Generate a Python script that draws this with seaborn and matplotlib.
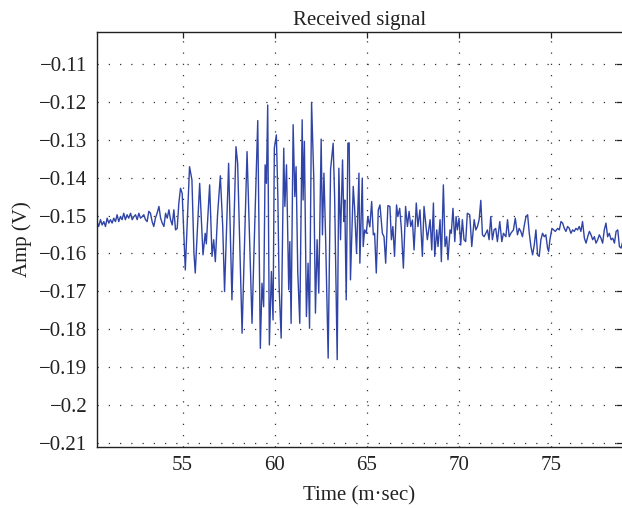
import matplotlib
matplotlib.use("Agg")
import matplotlib.pyplot as plt
import matplotlib.ticker as mticker
import seaborn as sns
import pandas as pd

# ---- data ----
time_ms = [
    50.36, 50.45, 50.55, 50.64, 50.73, 50.82, 50.91, 51.00, 51.09, 51.18,
    51.27, 51.36, 51.45, 51.54, 51.63, 51.72, 51.81, 51.90, 51.99, 52.08,
    52.18, 52.27, 52.36, 52.45, 52.54, 52.63, 52.72, 52.81, 52.90, 52.99,
    53.08, 53.17, 53.26, 53.35, 53.44, 53.53, 53.62, 53.72, 53.81, 53.90,
    53.99, 54.08, 54.17, 54.26, 54.35, 54.44, 54.53, 54.62, 54.71, 54.80,
    54.89, 54.98, 55.07,
    55.15, 55.38, 55.51, 55.62, 55.69, 55.93, 56.11, 56.23, 56.29, 56.47,
    56.60, 56.69, 56.78, 56.90, 57.05, 57.18, 57.28, 57.50, 57.68, 57.90,
    57.99, 58.23, 58.50, 58.77, 58.86, 59.08, 59.22,
    59.31, 59.40, 59.48, 59.55, 59.62, 59.71, 59.82, 59.91, 59.98, 60.09,
    60.17, 60.24, 60.35, 60.49, 60.55, 60.64, 60.76, 60.82, 60.89, 61.00,
    61.09, 61.16, 61.25, 61.36, 61.49, 61.54, 61.61, 61.72, 61.81, 61.89,
    62.00, 62.12, 62.21, 62.30, 62.39, 62.52, 62.59, 62.67, 62.76, 62.90,
    63.03, 63.17, 63.25, 63.39, 63.48, 63.57, 63.68, 63.75, 63.80, 63.88,
    63.97, 64.04, 64.11, 64.26, 64.33, 64.44, 64.57, 64.62, 64.75, 64.80,
    64.88, 64.97, 65.05, 65.16, 65.26, 65.35, 65.42, 65.51, 65.62, 65.71,
    65.84, 65.93, 66.02, 66.14, 66.25, 66.33, 66.41, 66.50, 66.61, 66.68,
    66.78, 66.87, 66.98, 67.10, 67.20, 67.29, 67.38, 67.47, 67.56, 67.68,
    67.77, 67.88, 68.01, 68.10,
    68.28, 68.43, 68.52, 68.61, 68.68, 68.79, 68.86, 68.97, 69.04, 69.15,
    69.24, 69.33, 69.40, 69.51, 69.58, 69.67, 69.77, 69.84, 69.91, 70.00,
    70.09, 70.18, 70.27, 70.36, 70.45, 70.58, 70.69, 70.82, 70.91, 71.00,
    71.09, 71.18, 71.27, 71.36, 71.45, 71.54, 71.63, 71.72, 71.81, 71.90,
    71.99, 72.08, 72.21, 72.32, 72.41, 72.54, 72.63, 72.72, 72.81, 72.95,
    73.05, 73.17, 73.26,
    73.35, 73.44, 73.53, 73.63, 73.72, 73.81, 73.90, 73.99, 74.08, 74.17,
    74.26, 74.35, 74.44, 74.53, 74.62, 74.71, 74.80, 74.86, 74.93, 75.04,
    75.13, 75.22, 75.35, 75.44, 75.53, 75.62, 75.71, 75.80, 75.89, 75.98,
    76.07, 76.16, 76.25, 76.34, 76.43, 76.52, 76.61, 76.70, 76.80, 76.89,
    76.98, 77.07, 77.16, 77.25, 77.34, 77.43, 77.52, 77.61, 77.70, 77.79,
    77.88, 77.97, 78.06, 78.15, 78.25, 78.34, 78.43, 78.52, 78.61, 78.70,
    78.79, 78.88,
]
amp_v = [
    -0.1516, -0.1529, -0.1511, -0.1525, -0.1516, -0.1529, -0.1507, -0.1520, -0.1511, -0.1520,
    -0.1507, -0.1516, -0.1498, -0.1516, -0.1503, -0.1511, -0.1494, -0.1511, -0.1498, -0.1507,
    -0.1494, -0.1511, -0.1503, -0.1498, -0.1511, -0.1494, -0.1507, -0.1503, -0.1498, -0.1511,
    -0.1516, -0.1489, -0.1494, -0.1516, -0.1529, -0.1507, -0.1494, -0.1476, -0.1507, -0.1520,
    -0.1529, -0.1494, -0.1507, -0.1485, -0.1511, -0.1525, -0.1485, -0.1538, -0.1534, -0.1467,
    -0.1428, -0.1441, -0.1547,
    -0.1644, -0.1371, -0.1406, -0.1600, -0.1652, -0.1415, -0.1604, -0.1547, -0.1575, -0.1419,
    -0.1608, -0.1564, -0.1622, -0.1498, -0.1395, -0.1529, -0.1701, -0.1362, -0.1723, -0.1318,
    -0.1362, -0.1811, -0.1331, -0.1785, -0.1622, -0.1249, -0.1851,
    -0.1679, -0.1741, -0.1366, -0.1415, -0.1208, -0.1842, -0.1648, -0.1776, -0.1322, -0.1287,
    -0.1450, -0.1688, -0.1824, -0.1322, -0.1476, -0.1366, -0.1696, -0.1569, -0.1785, -0.1260,
    -0.1450, -0.1371, -0.1648, -0.1785, -0.1247, -0.1459, -0.1304, -0.1767, -0.1626, -0.1798,
    -0.1201, -0.1401, -0.1758, -0.1564, -0.1705, -0.1298, -0.1551, -0.1388, -0.1555, -0.1877,
    -0.1379, -0.1309, -0.1450, -0.1881, -0.1375, -0.1564, -0.1353, -0.1516, -0.1459, -0.1723,
    -0.1309, -0.1308, -0.1670, -0.1423, -0.1476, -0.1600, -0.1388, -0.1626, -0.1401, -0.1582,
    -0.1538, -0.1547, -0.1503, -0.1530, -0.1463, -0.1551, -0.1547, -0.1652, -0.1485, -0.1472,
    -0.1547, -0.1556, -0.1626, -0.1474, -0.1476, -0.1564, -0.1529, -0.1608, -0.1472, -0.1503,
    -0.1481, -0.1534, -0.1639, -0.1476, -0.1529, -0.1489, -0.1529, -0.1512, -0.1591, -0.1467,
    -0.1529, -0.1485, -0.1608, -0.1476,
    -0.1564, -0.1511, -0.1591, -0.1467, -0.1608, -0.1538, -0.1582, -0.1511, -0.1622, -0.1419,
    -0.1582, -0.1556, -0.1617, -0.1538, -0.1547, -0.1481, -0.1569, -0.1503, -0.1538, -0.1507,
    -0.1578, -0.1511, -0.1564, -0.1569, -0.1494, -0.1498, -0.1582, -0.1511, -0.1538, -0.1529,
    -0.1511, -0.1460, -0.1551, -0.1556, -0.1547, -0.1538, -0.1564, -0.1503, -0.1564, -0.1538,
    -0.1534, -0.1569, -0.1516, -0.1569, -0.1547, -0.1556, -0.1511, -0.1556, -0.1547, -0.1538,
    -0.1507, -0.1551, -0.1534,
    -0.1542, -0.1556, -0.1529, -0.1503, -0.1498, -0.1547, -0.1582, -0.1604, -0.1578, -0.1538,
    -0.1604, -0.1608, -0.1564, -0.1547, -0.1556, -0.1551, -0.1586, -0.1595, -0.1564, -0.1534,
    -0.1538, -0.1542, -0.1534, -0.1538, -0.1516, -0.1520, -0.1534, -0.1542, -0.1529, -0.1534,
    -0.1547, -0.1538, -0.1542, -0.1534, -0.1538, -0.1529, -0.1542, -0.1516, -0.1560, -0.1573,
    -0.1556, -0.1542, -0.1551, -0.1564, -0.1556, -0.1573, -0.1564, -0.1551, -0.1560, -0.1573,
    -0.1538, -0.1520, -0.1556, -0.1547, -0.1564, -0.1560, -0.1573, -0.1542, -0.1538, -0.1582,
    -0.1586, -0.1569,
]
x_ticks = [55, 60, 65, 70, 75]
y_ticks = [-0.21, -0.20, -0.19, -0.18, -0.17, -0.16, -0.15, -0.14, -0.13, -0.12, -0.11]
title_text = "Received signal"
x_label = "Time (m\u00b7sec)"
y_label = "Amp (V)"

df = pd.DataFrame({"t": time_ms, "v": amp_v})

sns.set_theme(style="white")
plt.rcParams["font.family"] = ["Liberation Serif", "DejaVu Serif"]
plt.rcParams["axes.unicode_minus"] = True

fig = plt.figure(figsize=(6.22, 5.08), dpi=100)
ax = fig.add_axes([97 / 622, 1 - 446.7 / 508, 1 - 97 / 622, (446.7 - 32) / 508])

sns.lineplot(data=df, x="t", y="v", sort=False, estimator=None,
             color="#2f44a6", linewidth=1.0, ax=ax)

ax.set_xlim(50.36, 78.84)
ax.set_ylim(-0.2111, -0.1015)
ax.set_xticks(x_ticks)
ax.set_yticks(y_ticks)

def yfmt(v, pos):
    s = ("%.2f" % v).rstrip("0").rstrip(".")
    return s.replace("-", "\u2212")

ax.yaxis.set_major_formatter(mticker.FuncFormatter(yfmt))

ax.grid(True, color="#333333", linestyle=(0, (1, 8)), linewidth=0.9)
ax.tick_params(axis="both", direction="in", length=4, width=0.9,
               top=True, right=True, labelsize=15, colors="#222222", pad=7)
for side in ["left", "top", "bottom"]:
    ax.spines[side].set_color("#222222")
    ax.spines[side].set_linewidth(1.0)
ax.spines["right"].set_visible(False)

ax.set_title(title_text, fontsize=15, color="#222222", pad=5)
ax.set_xlabel(x_label, fontsize=15, color="#222222", labelpad=8)
ax.set_ylabel(y_label, fontsize=15, color="#222222", labelpad=5)

fig.savefig("out.png", dpi=100, facecolor="white")
